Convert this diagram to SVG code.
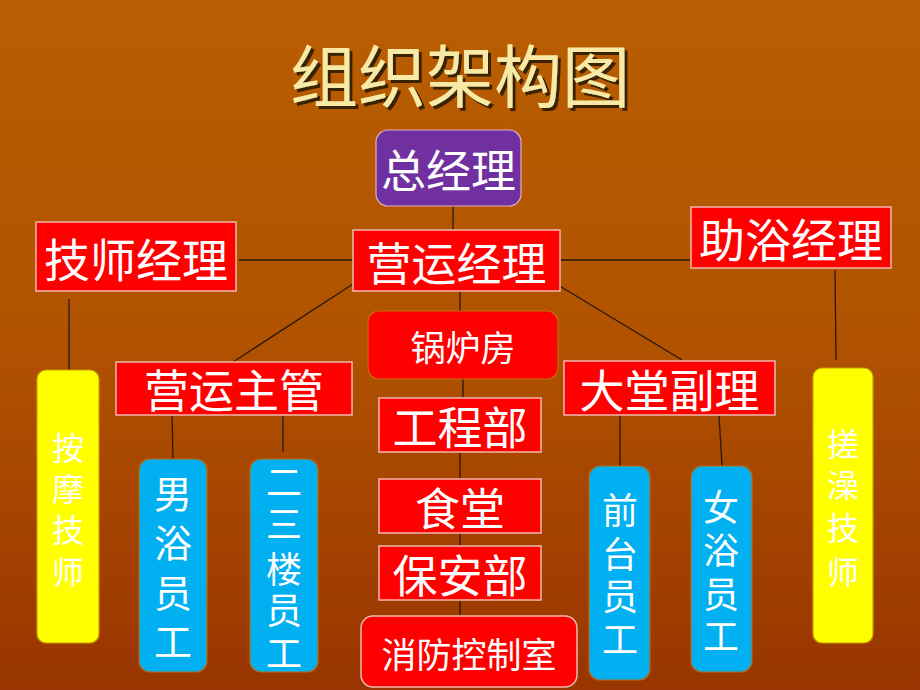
<svg xmlns="http://www.w3.org/2000/svg" width="920" height="690" viewBox="0 0 920 690">
<defs>
<linearGradient id="bg" x1="0" y1="0" x2="0" y2="1">
<stop offset="0" stop-color="#B95E02"/>
<stop offset="0.5" stop-color="#B05200"/>
<stop offset="1" stop-color="#983500"/>
</linearGradient>
<filter id="sh" x="-10%" y="-20%" width="130%" height="150%">
<feDropShadow dx="3" dy="3" stdDeviation="0.6" flood-color="#3A2000" flood-opacity="1"/>
</filter>
<style>
.t{font-family:"Noto Sans CJK SC","Noto Sans CJK TC",sans-serif;fill:#FFFFFF;text-anchor:middle;dominant-baseline:central}
.red{fill:#FF0000;stroke:#F2B8B0;stroke-width:1.5}
.redr{fill:#FF0000;stroke:#C86A10;stroke-width:1.2}
.yel{fill:#FFFF00;stroke:#C8A000;stroke-width:1.2}
.blu{fill:#00B0F0;stroke:#B86A10;stroke-width:1.2}
.c line{stroke:#2A1808;stroke-width:1.3}
</style>
</defs>
<rect x="0" y="0" width="920" height="690" fill="url(#bg)"/>
<g id="title">
<text x="460" y="72" class="t" font-size="68" style="fill:#F8E9A6" filter="url(#sh)">组织架构图</text>
</g>
<g class="c" id="connectors">
<line x1="453" y1="206" x2="453" y2="230"/>
<line x1="239" y1="260" x2="353" y2="260"/>
<line x1="560" y1="260" x2="691" y2="260"/>
<line x1="353" y1="284" x2="233" y2="362"/>
<line x1="558" y1="285" x2="682" y2="360"/>
<line x1="460" y1="291" x2="460" y2="311"/>
<line x1="463" y1="379" x2="463" y2="398"/>
<line x1="460" y1="452" x2="460" y2="479"/>
<line x1="460" y1="533" x2="460" y2="546"/>
<line x1="460" y1="600" x2="460" y2="616"/>
<line x1="69" y1="299" x2="69" y2="370"/>
<line x1="835" y1="270" x2="836" y2="360"/>
<line x1="172" y1="415" x2="173" y2="459"/>
<line x1="283" y1="415" x2="283" y2="452"/>
<line x1="620" y1="415" x2="620" y2="466"/>
<line x1="719" y1="415" x2="722" y2="466"/>
</g>
<g id="gm">
<rect x="376" y="130" width="145" height="76" rx="12" fill="#7030A0" stroke="#E0B0C8" stroke-width="1.2"/>
<text x="448.5" y="168" class="t" font-size="45">总经理</text>
</g>
<g id="tech-mgr">
<rect x="36" y="222" width="200" height="69" class="red"/>
<text x="136" y="257" class="t" font-size="46">技师经理</text>
</g>
<g id="ops-mgr">
<rect x="353" y="230" width="207" height="61" class="red"/>
<text x="456.5" y="261" class="t" font-size="45">营运经理</text>
</g>
<g id="bath-mgr">
<rect x="691" y="207" width="200" height="61" class="red"/>
<text x="791" y="237" class="t" font-size="46">助浴经理</text>
</g>
<g id="ops-sup">
<rect x="116" y="362" width="236" height="53" class="red"/>
<text x="234" y="388" class="t" font-size="45">营运主管</text>
</g>
<g id="lobby">
<rect x="564" y="361" width="211" height="54" class="red"/>
<text x="669.5" y="388" class="t" font-size="45">大堂副理</text>
</g>
<g id="boiler">
<rect x="368" y="311" width="190" height="68" rx="11" class="redr"/>
<text x="463" y="345" class="t" font-size="35">锅炉房</text>
</g>
<g id="eng">
<rect x="379" y="398" width="162" height="54" class="red"/>
<text x="460" y="425" class="t" font-size="45">工程部</text>
</g>
<g id="canteen">
<rect x="379" y="479" width="162" height="54" class="red"/>
<text x="460" y="506" class="t" font-size="45">食堂</text>
</g>
<g id="security">
<rect x="379" y="546" width="162" height="54" class="red"/>
<text x="460" y="573" class="t" font-size="45">保安部</text>
</g>
<g id="fire">
<rect x="361" y="616" width="216" height="71" rx="12" fill="#FF0000" stroke="#F2B8B0" stroke-width="1.5"/>
<text x="469" y="652" class="t" font-size="35">消防控制室</text>
</g>
<g id="massage">
<rect x="37" y="370" width="62" height="273" rx="9" class="yel"/>
<text class="t" font-size="32"><tspan x="68" y="446">按</tspan><tspan x="68" y="487">摩</tspan><tspan x="68" y="528">技</tspan><tspan x="68" y="570">师</tspan></text>
</g>
<g id="scrub">
<rect x="813" y="368" width="60" height="275" rx="9" class="yel"/>
<text class="t" font-size="32"><tspan x="843" y="442">搓</tspan><tspan x="843" y="483">澡</tspan><tspan x="843" y="526">技</tspan><tspan x="843" y="570">师</tspan></text>
</g>
<g id="male-bath">
<rect x="139" y="459" width="68" height="213" rx="11" class="blu"/>
<text class="t" font-size="38"><tspan x="173" y="491">男</tspan><tspan x="173" y="540">浴</tspan><tspan x="173" y="590">员</tspan><tspan x="173" y="639">工</tspan></text>
</g>
<g id="floor-staff">
<rect x="250" y="459" width="68" height="213" rx="11" class="blu"/>
<text class="t" font-size="36"><tspan x="284" y="480">二</tspan><tspan x="284" y="522">三</tspan><tspan x="284" y="567">楼</tspan><tspan x="284" y="608">员</tspan><tspan x="284" y="651">工</tspan></text>
</g>
<g id="front-desk">
<rect x="589" y="466" width="61" height="214" rx="11" class="blu"/>
<text class="t" font-size="36"><tspan x="620" y="508">前</tspan><tspan x="620" y="552">台</tspan><tspan x="620" y="594">员</tspan><tspan x="620" y="637">工</tspan></text>
</g>
<g id="female-bath">
<rect x="691" y="466" width="61" height="206" rx="11" class="blu"/>
<text class="t" font-size="36"><tspan x="721" y="505">女</tspan><tspan x="721" y="548">浴</tspan><tspan x="721" y="592">员</tspan><tspan x="721" y="634">工</tspan></text>
</g>
</svg>
